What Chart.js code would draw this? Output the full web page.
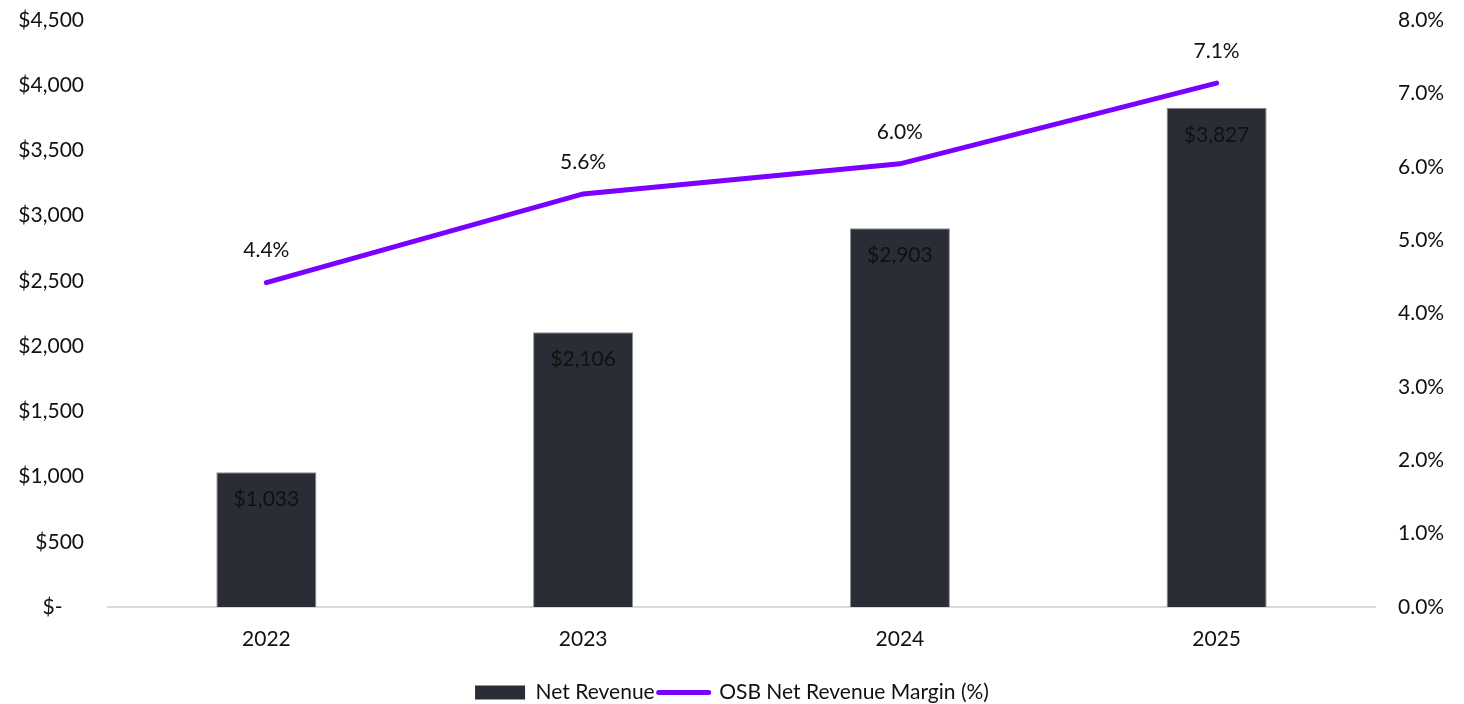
<!DOCTYPE html>
<html>
<head>
<meta charset="utf-8">
<script src="https://cdn.jsdelivr.net/npm/chart.js@4"></script>
<style>
  html, body { margin: 0; padding: 0; background: #ffffff; }
  #wrap { width: 1464px; height: 704px; position: relative; }
</style>
</head>
<body>
<div id="wrap"><canvas id="chart" width="1464" height="704"></canvas></div>
<script>
// Net revenue ($M) and OSB net revenue margin (%) by year
const years = ['2022', '2023', '2024', '2025'];
const netRevenue = [1033, 2106, 2903, 3827];
const marginPct = [4.42, 5.63, 6.04, 7.14];

const revenueTicks = [0, 500, 1000, 1500, 2000, 2500, 3000, 3500, 4000, 4500];
const marginTicks = [0, 1, 2, 3, 4, 5, 6, 7, 8];

const BAR_COLOR = '#2a2d35';
const LINE_COLOR = '#7a00ff';
const TEXT_COLOR = '#111111';
const FONT_FAMILY = 'Lato, "Open Sans", sans-serif';
const FONT_SIZE = 21;

function money(v) {
  if (v === 0) return '$-    ';
  return '$' + v.toLocaleString('en-US');
}

// Value labels: inside the top of each bar, above each line point
const valueLabels = {
  id: 'valueLabels',
  afterDatasetsDraw(chart) {
    const ctx = chart.ctx;
    ctx.save();
    ctx.font = FONT_SIZE + 'px ' + FONT_FAMILY;
    ctx.fillStyle = TEXT_COLOR;
    ctx.textAlign = 'center';
    ctx.textBaseline = 'middle';
    chart.data.datasets.forEach((ds, i) => {
      const meta = chart.getDatasetMeta(i);
      meta.data.forEach((el, j) => {
        const v = ds.data[j];
        if (ds.type === 'bar') {
          ctx.fillText(money(v), el.x, el.y + 27);
        } else {
          ctx.fillText(v.toFixed(1) + '%', el.x, el.y - 32);
        }
      });
    });
    ctx.restore();
  }
};

// Vertical axes: fixed width, no extra vertical padding around the plot
function fitVertical(width) {
  return function (scale) {
    scale.width = width;
    scale.paddingTop = 0;
    scale.paddingBottom = 0;
  };
}

Chart.defaults.font.family = FONT_FAMILY;
Chart.defaults.font.size = FONT_SIZE;
Chart.defaults.color = TEXT_COLOR;

new Chart(document.getElementById('chart'), {
  data: {
    labels: years,
    datasets: [
      {
        type: 'line',
        label: 'OSB Net Revenue Margin (%)',
        data: marginPct,
        yAxisID: 'yMargin',
        borderColor: LINE_COLOR,
        backgroundColor: LINE_COLOR,
        borderWidth: 5,
        borderCapStyle: 'round',
        pointRadius: 0,
        pointHoverRadius: 0,
        tension: 0,
        order: 0
      },
      {
        type: 'bar',
        label: 'Net Revenue',
        data: netRevenue,
        yAxisID: 'yRevenue',
        backgroundColor: BAR_COLOR,
        borderColor: '#8e9096',
        borderWidth: 1,
        barPercentage: 0.316,
        categoryPercentage: 1.0,
        order: 1
      }
    ]
  },
  options: {
    responsive: false,
    animation: false,
    layout: { padding: { top: 20, left: 0, right: 0, bottom: -9 } },
    plugins: {
      tooltip: { enabled: false },
      legend: {
        position: 'bottom',
        reverse: true,
        labels: {
          usePointStyle: true,
          pointStyleWidth: 50,
          boxHeight: 14,
          padding: 4,
          color: TEXT_COLOR,
          font: { size: FONT_SIZE },
          generateLabels(chart) {
            return chart.data.datasets.map((ds, i) => ({
              text: ds.label,
              datasetIndex: i,
              fillStyle: ds.type === 'bar' ? BAR_COLOR : LINE_COLOR,
              strokeStyle: ds.type === 'bar' ? BAR_COLOR : LINE_COLOR,
              lineWidth: ds.type === 'bar' ? 0 : 5,
              lineCap: 'round',
              pointStyle: ds.type === 'bar' ? 'rect' : 'line',
              hidden: false,
              fontColor: TEXT_COLOR
            }));
          }
        }
      }
    },
    scales: {
      x: {
        grid: { display: false, drawTicks: false },
        border: { display: true, color: '#d9d9d9', width: 2 },
        ticks: { padding: 20, color: TEXT_COLOR },
        afterFit(scale) { scale.height = 71; }
      },
      yRevenue: {
        position: 'left',
        min: 0,
        max: 4500,
        afterBuildTicks(scale) { scale.ticks = revenueTicks.map(v => ({ value: v })); },
        grid: { display: false, drawTicks: false },
        border: { display: false },
        ticks: { padding: 24, color: TEXT_COLOR, callback: v => money(v) },
        afterFit: fitVertical(108)
      },
      yMargin: {
        position: 'right',
        min: 0,
        max: 8,
        afterBuildTicks(scale) { scale.ticks = marginTicks.map(v => ({ value: v })); },
        grid: { display: false, drawTicks: false },
        border: { display: false },
        ticks: { padding: 23, color: TEXT_COLOR, callback: v => v.toFixed(1) + '%' },
        afterFit: fitVertical(89)
      }
    }
  },
  plugins: [valueLabels]
});
</script>
</body>
</html>
